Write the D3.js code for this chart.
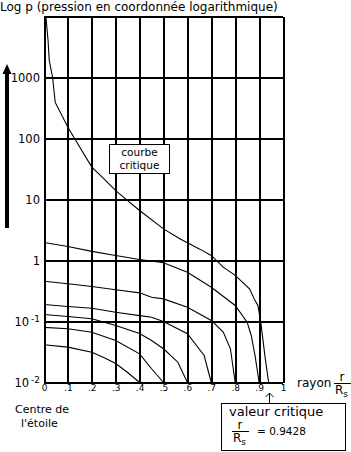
<!doctype html>
<html lang="fr">
<head>
	<meta charset="UTF-8">
	<title>Log p - courbe critique</title>
	<style>
		body {
			margin: 0;
			background: #fff;
		}

		svg text {
			font-family: "DejaVu Sans", sans-serif;
			fill: #000;
		}

		.grid line {
			stroke: #000;
			stroke-width: 2;
			shape-rendering: crispEdges;
		}

		.grid .domain {
			display: none;
		}

		.courbe {
			fill: none;
			stroke: #000;
			stroke-width: 1.1;
		}

		.boite {
			fill: #fff;
			stroke: #000;
			stroke-width: 1;
			shape-rendering: crispEdges;
		}
	</style>
</head>
<body>
	<script src="https://cdnjs.cloudflare.com/ajax/libs/d3/7.8.5/d3.min.js"></script>
	<script>
		// ticks
		var xTicks = [0, .1, .2, .3, .4, .5, .6, .7, .8, .9, 1],
			xTickLabels = ['0', '.1', '.2', '.3', '.4', '.5', '.6', '.7', '.8', '.9', '1'],
			yTicks = [0.01, 0.1, 1, 10, 100, 1000, 10000],
			yTickBase = ['10', '10', '1', '10', '100', '1000', ''],
			yTickExp = ['-2', '-1', '', '', '', '', ''];

		// courbe critique (r / Rs, p)
		var rCritique = [0.008, 0.017, 0.022, 0.036, 0.047, 0.1, 0.133, 0.2, 0.25, 0.3, 0.35, 0.4, 0.5, 0.57, 0.65, 0.7, 0.75, 0.8, 0.86, 0.883, 0.895, 0.907, 0.925, 0.94],
			pCritique = [10000, 4040, 1900, 1000, 390, 153, 93, 34, 22, 14, 9.6, 6.6, 3.3, 2.25, 1.55, 1.21, 0.78, 0.57, 0.344, 0.22, 0.183, 0.0975, 0.026, 0.01];

		// courbes sous-critiques, nommees par leur rayon final
		var r09 = [0, 0.1, 0.2, 0.3, 0.4, 0.5, 0.6, 0.7, 0.8, 0.85, 0.867, 0.883, 0.9],
			p09 = [1.97, 1.70, 1.41, 1.21, 1.04, 0.92, 0.64, 0.365, 0.183, 0.0975, 0.059, 0.0277, 0.01];
		var r08 = [0, 0.1, 0.2, 0.3, 0.4, 0.45, 0.5, 0.6, 0.7, 0.75, 0.78, 0.8],
			p08 = [0.458, 0.415, 0.375, 0.331, 0.295, 0.25, 0.235, 0.171, 0.104, 0.067, 0.0357, 0.01];
		var r07 = [0, 0.1, 0.2, 0.3, 0.4, 0.45, 0.5, 0.6, 0.67, 0.7],
			p07 = [0.19, 0.176, 0.165, 0.142, 0.125, 0.1175, 0.1, 0.063, 0.0277, 0.01];
		var r06 = [0, 0.1, 0.2, 0.3, 0.4, 0.45, 0.5, 0.56, 0.6],
			p06 = [0.130, 0.121, 0.111, 0.086, 0.0635, 0.0488, 0.0357, 0.0215, 0.01];
		var r05 = [0, 0.1, 0.2, 0.3, 0.4, 0.45, 0.5],
			p05 = [0.080, 0.0759, 0.0668, 0.0488, 0.0295, 0.0168, 0.01];
		var r04 = [0, 0.1, 0.2, 0.25, 0.3, 0.35, 0.4],
			p04 = [0.0415, 0.038, 0.0314, 0.0257, 0.0205, 0.0146, 0.01];

		var valeurCritique = 0.9428;

		var w = 351,
			h = 452;

		var svg = d3.select('body')
			.append('svg')
			.attr('width', w)
			.attr('height', h);

		var xScale = d3.scaleLinear()
			.domain([0, 1])
			.range([44, 283]);

		var yScale = d3.scaleLog()
			.domain([0.01, 10000])
			.range([382.5, 16.5]);

		/**
		* zip two arrays into points
		*/
		var zip = function(rs, ps) {
			return rs.map(function(r, i) {
				return [r, ps[i]];
			});
		};

		/**
		* grid and tick labels
		*/
		var drawGrid = function() {
			var gx = svg.append('g')
				.attr('class', 'grid')
				.attr('transform', 'translate(0,' + yScale(0.01) + ')')
				.call(d3.axisBottom(xScale)
					.tickValues(xTicks)
					.tickSize(-(yScale(0.01) - yScale(10000)))
					.tickPadding(2)
					.tickFormat(function(d, i) { return xTickLabels[i]; }));

			gx.selectAll('text')
				.style('font-size', '9px');

			var gy = svg.append('g')
				.attr('class', 'grid')
				.attr('transform', 'translate(' + xScale(0) + ',0)')
				.call(d3.axisLeft(yScale)
					.tickValues(yTicks)
					.tickSize(-(xScale(1) - xScale(0)))
					.tickPadding(4)
					.tickFormat(function(d, i) { return yTickBase[i]; }));

			gy.selectAll('text')
				.style('font-size', '11.5px')
				.each(function(d, i) {
					if (yTickExp[i]) {
						d3.select(this)
							.append('tspan')
							.attr('dy', '-0.45em')
							.attr('dx', '2')
							.style('font-size', '9px')
							.text(yTickExp[i]);
					}
				});
		};

		/**
		* curves
		*/
		var drawCurves = function() {
			var line = d3.line()
				.x(function(d) { return xScale(d[0]); })
				.y(function(d) { return yScale(d[1]); });

			var curves = [
				zip(rCritique, pCritique),
				zip(r09, p09),
				zip(r08, p08),
				zip(r07, p07),
				zip(r06, p06),
				zip(r05, p05),
				zip(r04, p04)
			];

			svg.selectAll('path.courbe')
				.data(curves)
				.enter()
				.append('path')
				.attr('class', 'courbe')
				.attr('d', line);
		};

		/**
		* fraction r / Rs
		*/
		var drawFraction = function(g, x, y) {
			g.append('text')
				.attr('x', x + 8)
				.attr('y', y - 2)
				.attr('text-anchor', 'middle')
				.style('font-size', '12px')
				.text('r');
			g.append('line')
				.attr('x1', x)
				.attr('x2', x + 17)
				.attr('y1', y)
				.attr('y2', y)
				.attr('stroke', '#000')
				.attr('stroke-width', 1)
				.attr('shape-rendering', 'crispEdges');
			var t = g.append('text')
				.attr('x', x + 1)
				.attr('y', y + 11)
				.style('font-size', '12px')
				.text('R');
			t.append('tspan')
				.attr('dy', 3)
				.style('font-size', '9px')
				.text('s');
		};

		/**
		* labels, boxes, arrows
		*/
		var drawLabels = function() {
			svg.append('text')
				.attr('x', 0)
				.attr('y', 11)
				.style('font-size', '12px')
				.text('Log p (pression en coordonnée logarithmique)');

			// thick arrow on the left
			svg.append('line')
				.attr('x1', 7)
				.attr('x2', 7)
				.attr('y1', 228)
				.attr('y2', 72)
				.attr('stroke', '#000')
				.attr('stroke-width', 4);
			svg.append('path')
				.attr('d', 'M2.5,74 L11.5,74 L7,64 Z')
				.attr('fill', '#000');

			// courbe critique box
			svg.append('rect')
				.attr('class', 'boite')
				.attr('x', 109.5)
				.attr('y', 144.5)
				.attr('width', 60)
				.attr('height', 29);
			svg.append('text')
				.attr('x', 139.5)
				.attr('y', 156)
				.attr('text-anchor', 'middle')
				.style('font-size', '10.5px')
				.text('courbe');
			svg.append('text')
				.attr('x', 139.5)
				.attr('y', 168.5)
				.attr('text-anchor', 'middle')
				.style('font-size', '10.5px')
				.text('critique');

			// rayon r/Rs
			svg.append('text')
				.attr('x', 297)
				.attr('y', 387)
				.style('font-size', '12px')
				.text('rayon');
			drawFraction(svg.append('g'), 334, 383);

			// centre de l'etoile
			svg.append('text')
				.attr('x', 15)
				.attr('y', 413)
				.style('font-size', '11px')
				.text('Centre de');
			svg.append('text')
				.attr('x', 21)
				.attr('y', 426.5)
				.style('font-size', '11px')
				.text('l\'étoile');

			// valeur critique box
			var xc = Math.round(xScale(valeurCritique)) + 0.5;
			svg.append('line')
				.attr('x1', xc)
				.attr('x2', xc)
				.attr('y1', 403)
				.attr('y2', 393)
				.attr('stroke', '#000')
				.attr('stroke-width', 1);
			svg.append('path')
				.attr('d', 'M' + (xc - 4) + ',397 L' + xc + ',393 L' + (xc + 4) + ',397')
				.attr('fill', 'none')
				.attr('stroke', '#000')
				.attr('stroke-width', 1);

			svg.append('rect')
				.attr('class', 'boite')
				.attr('x', 221.5)
				.attr('y', 403.5)
				.attr('width', 124)
				.attr('height', 47);
			svg.append('text')
				.attr('x', 229)
				.attr('y', 416)
				.style('font-size', '13px')
				.text('valeur critique');
			drawFraction(svg.append('g'), 232, 431);
			svg.append('text')
				.attr('x', 257)
				.attr('y', 435)
				.style('font-size', '10.5px')
				.text('=  ' + valeurCritique);
		};

		drawGrid();
		drawCurves();
		drawLabels();
	</script>
</body>
</html>
